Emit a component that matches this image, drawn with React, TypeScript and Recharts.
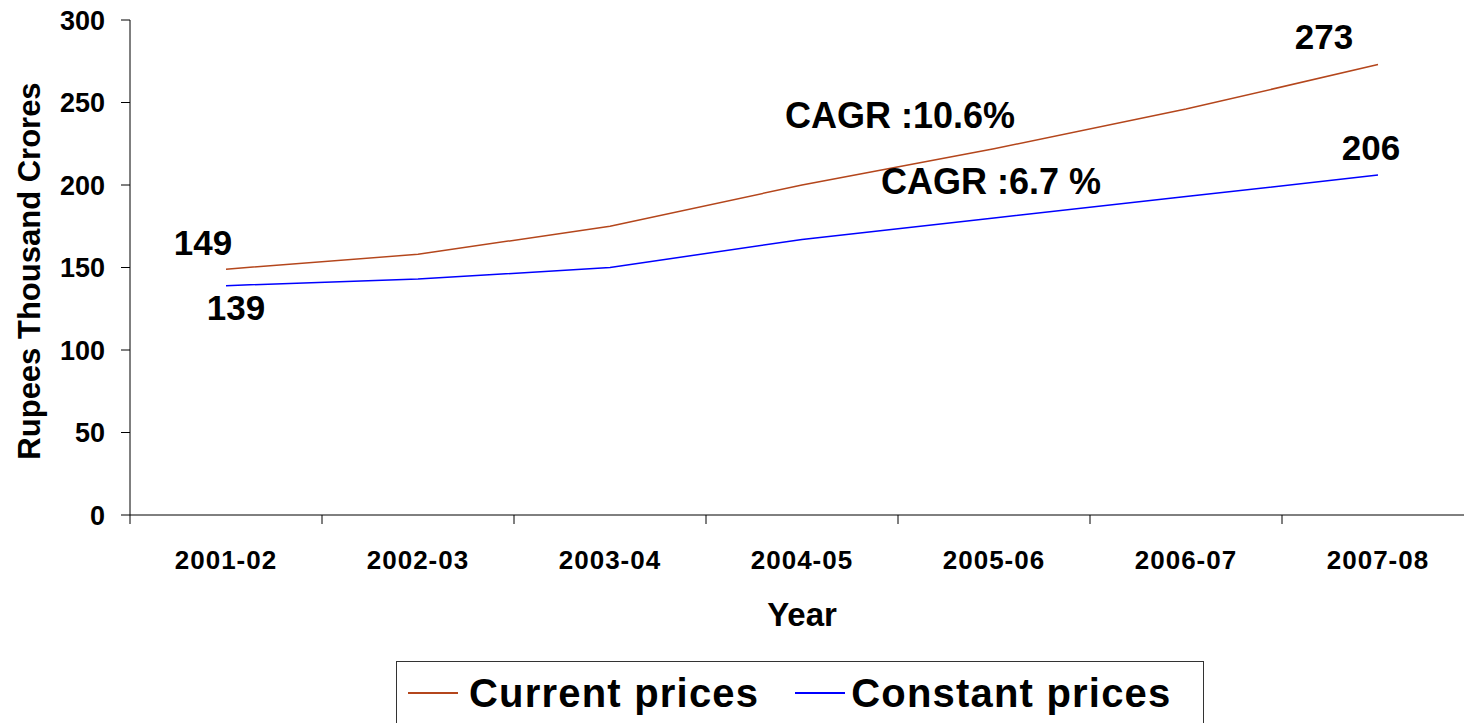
import { LineChart, Line, XAxis, YAxis, Legend, LabelList, Label, ReferenceDot } from "recharts";

const years = ["2001-02", "2002-03", "2003-04", "2004-05", "2005-06", "2006-07", "2007-08"];
const currentPrices = [149, 158, 175, 200, 222, 246, 273];
const constantPrices = [139, 143, 150, 167, 180, 193, 206];
const yTicks = [0, 50, 100, 150, 200, 250, 300];

const data = years.map((year, i) => ({
  year,
  current: currentPrices[i],
  constant: constantPrices[i],
}));

const FONT = "'Liberation Sans', Arial, Helvetica, sans-serif";
const CHART_W = 1474;
const CHART_H = 741;
const Y_AXIS_W = 130;
const HALF_BAND = (CHART_W - Y_AXIS_W) / years.length / 2;

const CURRENT_COLOR = "#B4461C";
const CONSTANT_COLOR = "#0000FF";

function XTick(props: any) {
  const { x, y, payload, index } = props;
  const last = index === years.length - 1;
  return (
    <g>
      <line x1={x - HALF_BAND} y1={y - 9} x2={x - HALF_BAND} y2={y} stroke="#000" />
      {last && <line x1={x + HALF_BAND} y1={y - 9} x2={x + HALF_BAND} y2={y} stroke="#000" />}
      <text
        x={x}
        y={y + 45}
        textAnchor="middle"
        fontFamily={FONT}
        fontWeight="bold"
        fontSize={26}
        letterSpacing={1}
        fill="#000"
      >
        {payload.value}
      </text>
    </g>
  );
}

// first / last point labels, offsets per series
const pointLabel = (offsets: Record<number, { dx: number; dy: number }>) => (props: any) => {
  const { x, y, value, index } = props;
  const o = offsets[index];
  if (!o) return null;
  return (
    <text
      x={x + o.dx}
      y={y + o.dy}
      textAnchor="middle"
      fontFamily={FONT}
      fontWeight="bold"
      fontSize={35}
      fill="#000"
    >
      {value}
    </text>
  );
};

const cagrLabel = (text: string, dx: number) => (props: any) => {
  const vb = props.viewBox || {};
  const cx = (vb.cx ?? vb.x + (vb.width || 0) / 2) + dx;
  const cy = vb.cy ?? vb.y + (vb.height || 0) / 2;
  return (
    <text
      x={cx}
      y={cy}
      textAnchor="middle"
      dominantBaseline="central"
      fontFamily={FONT}
      fontWeight="bold"
      fontSize={36}
      fill="#000"
    >
      {text}
    </text>
  );
};

function LegendBox() {
  const item = (color: string, label: string, gap: number) => (
    <div style={{ display: "flex", alignItems: "center" }}>
      <div style={{ width: 50, height: 2, background: color, marginRight: gap }} />
      <span style={{ fontSize: 40, lineHeight: "40px", letterSpacing: 1.2 }}>{label}</span>
    </div>
  );
  return (
    <div
      style={{
        boxSizing: "border-box",
        width: 808,
        height: 80,
        border: "1.5px solid #333",
        background: "#fff",
        display: "flex",
        alignItems: "flex-start",
        paddingTop: 11,
        paddingLeft: 11,
        gap: 36,
        fontFamily: FONT,
        fontWeight: "bold",
        color: "#000",
      }}
    >
      {item(CURRENT_COLOR, "Current prices", 11)}
      {item(CONSTANT_COLOR, "Constant prices", 6)}
    </div>
  );
}

export default function App() {
  return (
    <div
      style={{
        position: "absolute",
        left: 0,
        top: 0,
        width: 1464,
        height: 723,
        overflow: "hidden",
        background: "#fff",
      }}
    >
      <LineChart
        width={CHART_W}
        height={CHART_H}
        data={data}
        margin={{ top: 20, right: 0, left: 0, bottom: 0 }}
      >
        <XAxis
          dataKey="year"
          scale="band"
          interval={0}
          height={146}
          axisLine={{ stroke: "#000" }}
          tickLine={false}
          tickSize={9}
          tickMargin={0}
          tick={<XTick />}
        >
          <Label
            content={(p: any) => (
              <text
                x={p.viewBox.x + p.viewBox.width / 2}
                y={p.viewBox.y + 111}
                textAnchor="middle"
                fontFamily={FONT}
                fontWeight="bold"
                fontSize={33}
                fill="#000"
              >
                Year
              </text>
            )}
          />
        </XAxis>
        <YAxis
          width={Y_AXIS_W}
          domain={[0, 300]}
          ticks={yTicks}
          interval={0}
          axisLine={{ stroke: "#000" }}
          tickLine={{ stroke: "#000" }}
          tickSize={9}
          tickMargin={16}
          tick={{ fontFamily: FONT, fontWeight: "bold", fontSize: 27, fill: "#000" }}
        >
          <Label
            content={() => (
              <text
                x={40}
                y={271}
                transform="rotate(-90, 40, 271)"
                textAnchor="middle"
                fontFamily={FONT}
                fontWeight="bold"
                fontSize={31}
                fill="#000"
              >
                Rupees Thousand Crores
              </text>
            )}
          />
        </YAxis>
        <Legend
          verticalAlign="bottom"
          content={() => <LegendBox />}
          wrapperStyle={{ left: 396, width: 808, height: 80 }}
        />
        <Line
          type="linear"
          dataKey="current"
          name="Current prices"
          stroke={CURRENT_COLOR}
          strokeWidth={1.5}
          dot={false}
          activeDot={false}
          isAnimationActive={false}
        >
          <LabelList
            dataKey="current"
            content={pointLabel({ 0: { dx: -23, dy: -14 }, 6: { dx: -54, dy: -16 } })}
          />
        </Line>
        <Line
          type="linear"
          dataKey="constant"
          name="Constant prices"
          stroke={CONSTANT_COLOR}
          strokeWidth={1.5}
          dot={false}
          activeDot={false}
          isAnimationActive={false}
        >
          <LabelList
            dataKey="constant"
            content={pointLabel({ 0: { dx: 10, dy: 34 }, 6: { dx: -7, dy: -15 } })}
          />
        </Line>
        <ReferenceDot
          x="2004-05"
          y={242}
          r={0}
          fill="none"
          stroke="none"
          ifOverflow="visible"
          label={cagrLabel("CAGR :10.6%", 98)}
        />
        <ReferenceDot
          x="2005-06"
          y={202}
          r={0}
          fill="none"
          stroke="none"
          ifOverflow="visible"
          label={cagrLabel("CAGR :6.7 %", -3)}
        />
      </LineChart>
    </div>
  );
}
